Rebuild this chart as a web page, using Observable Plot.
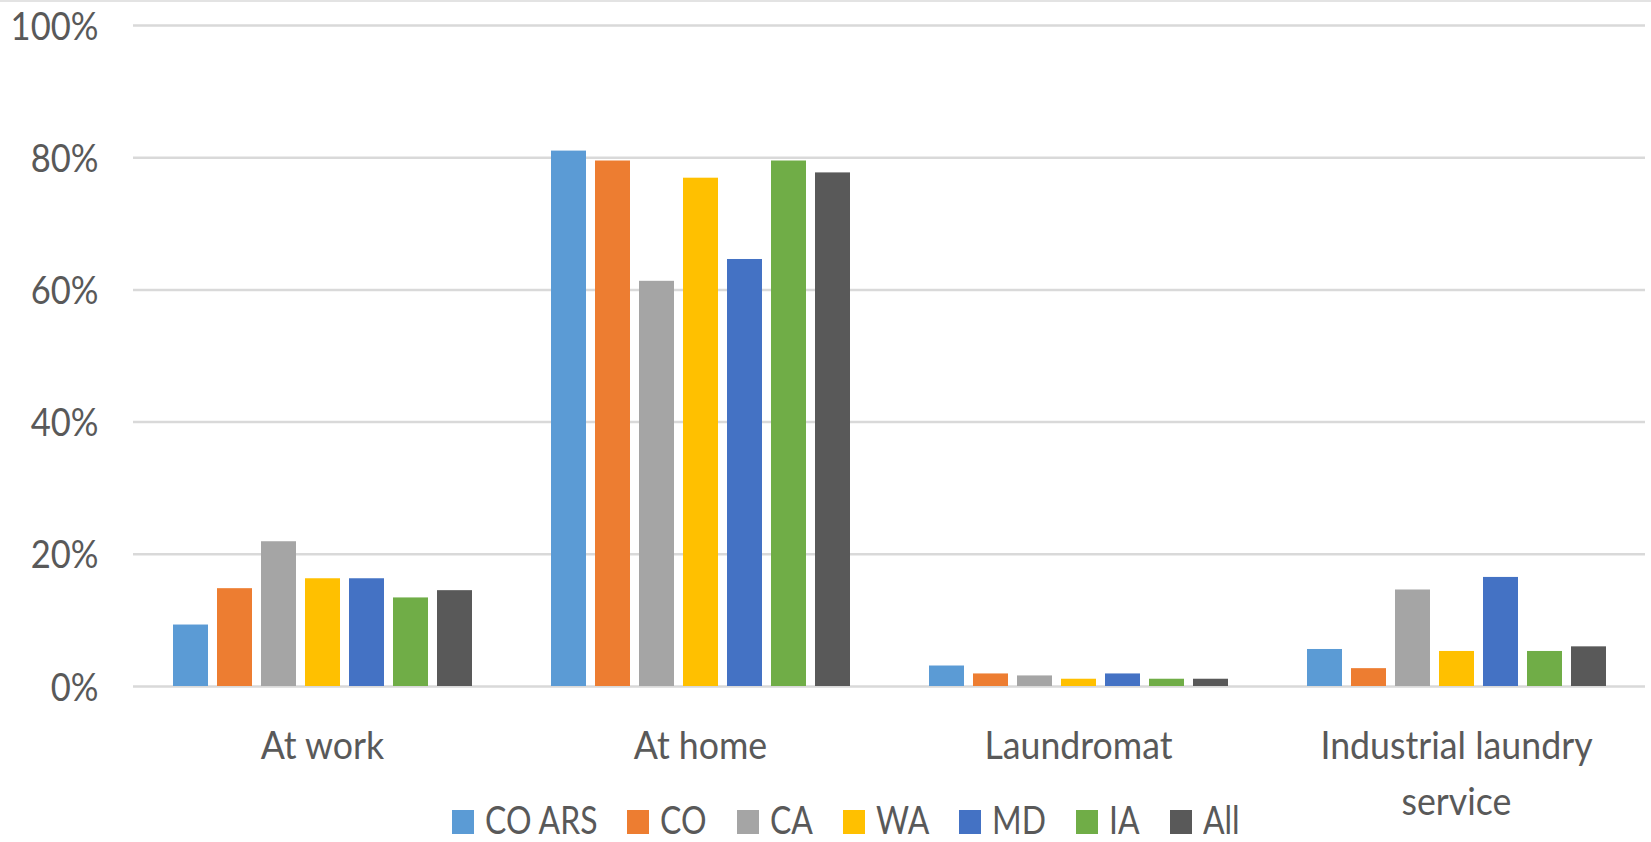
<!DOCTYPE html>
<html>
<head>
<meta charset="utf-8">
<script src="https://cdn.jsdelivr.net/npm/d3@7"></script>
<script src="https://cdn.jsdelivr.net/npm/@observablehq/plot@0.6"></script>
<style>
  body { margin: 0; background: #fff; }
  #wrap { position: relative; width: 1651px; height: 842px; background: #fff; }
  #topline { position: absolute; left: 0; top: 0; width: 1651px; height: 2px; background: #e3e3e3; }
  #legend { position: absolute; left: 452px; top: 801px; display: flex; align-items: baseline; font-family: Lato, sans-serif; font-size: 38px; line-height: 36px; color: #595959; white-space: nowrap; }
  #legend .item { margin-right: 30px; }
  #legend .item:last-child { margin-right: 0; }
  #legend .sw { display: inline-block; width: 22px; height: 24px; margin-right: 11px; }
  #legend .lab { display: inline-block; transform-origin: 0 50%; }
</style>
</head>
<body>
<div id="wrap">
  <div id="chart"></div>
  <div id="topline"></div>
  <div id="legend"></div>
</div>
<script>
const categories = ["At work", "At home", "Laundromat", "Industrial laundry service"];
const categoryLabels = ["At work", "At home", "Laundromat", "Industrial laundry\nservice"];
const series = ["CO ARS", "CO", "CA", "WA", "MD", "IA", "All"];
const colors = ["#5B9BD5", "#ED7D31", "#A5A5A5", "#FFC000", "#4472C4", "#70AD47", "#595959"];
const yTicks = [0, 0.2, 0.4, 0.6, 0.8, 1.0];

const valuesCOARS = [0.093, 0.810, 0.031, 0.056];
const valuesCO    = [0.148, 0.795, 0.019, 0.027];
const valuesCA    = [0.219, 0.613, 0.016, 0.146];
const valuesWA    = [0.163, 0.769, 0.011, 0.053];
const valuesMD    = [0.163, 0.646, 0.019, 0.165];
const valuesIA    = [0.134, 0.795, 0.011, 0.053];
const valuesAll   = [0.145, 0.777, 0.011, 0.060];

const seriesValues = [valuesCOARS, valuesCO, valuesCA, valuesWA, valuesMD, valuesIA, valuesAll];
const data = [];
series.forEach((s, i) => {
  categories.forEach((c, j) => {
    data.push({ category: c, series: s, value: seriesValues[i][j] });
  });
});

const chart = Plot.plot({
  width: 1651,
  height: 842,
  marginLeft: 132,
  marginRight: 5,
  marginTop: 25,
  marginBottom: 156,
  style: { fontFamily: "Lato, sans-serif", fontSize: "38px", color: "#595959", background: "transparent", overflow: "visible" },
  fx: { domain: categories, padding: 0, label: null },
  x: { domain: series, paddingInner: 0.213, paddingOuter: 0.854, axis: null },
  y: { domain: [0, 1], label: null },
  color: { domain: series, range: colors },
  marks: [
    Plot.gridY({ ticks: yTicks, stroke: "#d9d9d9", strokeOpacity: 1, strokeWidth: 2.5 }),
    Plot.axisY({ ticks: yTicks, tickFormat: d3.format(".0%"), tickSize: 0, tickPadding: 35, label: null, dy: 2 }),
    Plot.axisFx({ anchor: "bottom", tickSize: 0, tickPadding: 33, label: null, lineHeight: 1.47,
                  tickFormat: d => categoryLabels[categories.indexOf(d)] }),
    Plot.barY(data, { fx: "category", x: "series", y: "value", fill: "series" })
  ]
});
document.getElementById("chart").appendChild(chart);

// narrow the text horizontally to mimic the condensed look of the original font
function squeeze(selector, k) {
  chart.querySelectorAll(selector).forEach(t => {
    const tr = t.getAttribute("transform") || "";
    t.setAttribute("transform", tr + ` scale(${k},1)`);
  });
}
squeeze('g[aria-label="y-axis tick label"] text', 0.91);
squeeze('g[aria-label="fx-axis tick label"] text', 0.94);

const legend = document.getElementById("legend");
const legendScale = 0.84;
series.forEach((s, i) => {
  const item = document.createElement("span");
  item.className = "item";
  const sw = document.createElement("span");
  sw.className = "sw";
  sw.style.background = colors[i];
  const lab = document.createElement("span");
  lab.className = "lab";
  lab.textContent = s;
  item.appendChild(sw);
  item.appendChild(lab);
  legend.appendChild(item);
});
legend.querySelectorAll(".lab").forEach(lab => {
  const w = lab.getBoundingClientRect().width;
  lab.style.transform = `scaleX(${legendScale})`;
  lab.style.marginRight = `${-(1 - legendScale) * w}px`;
});
</script>
</body>
</html>
